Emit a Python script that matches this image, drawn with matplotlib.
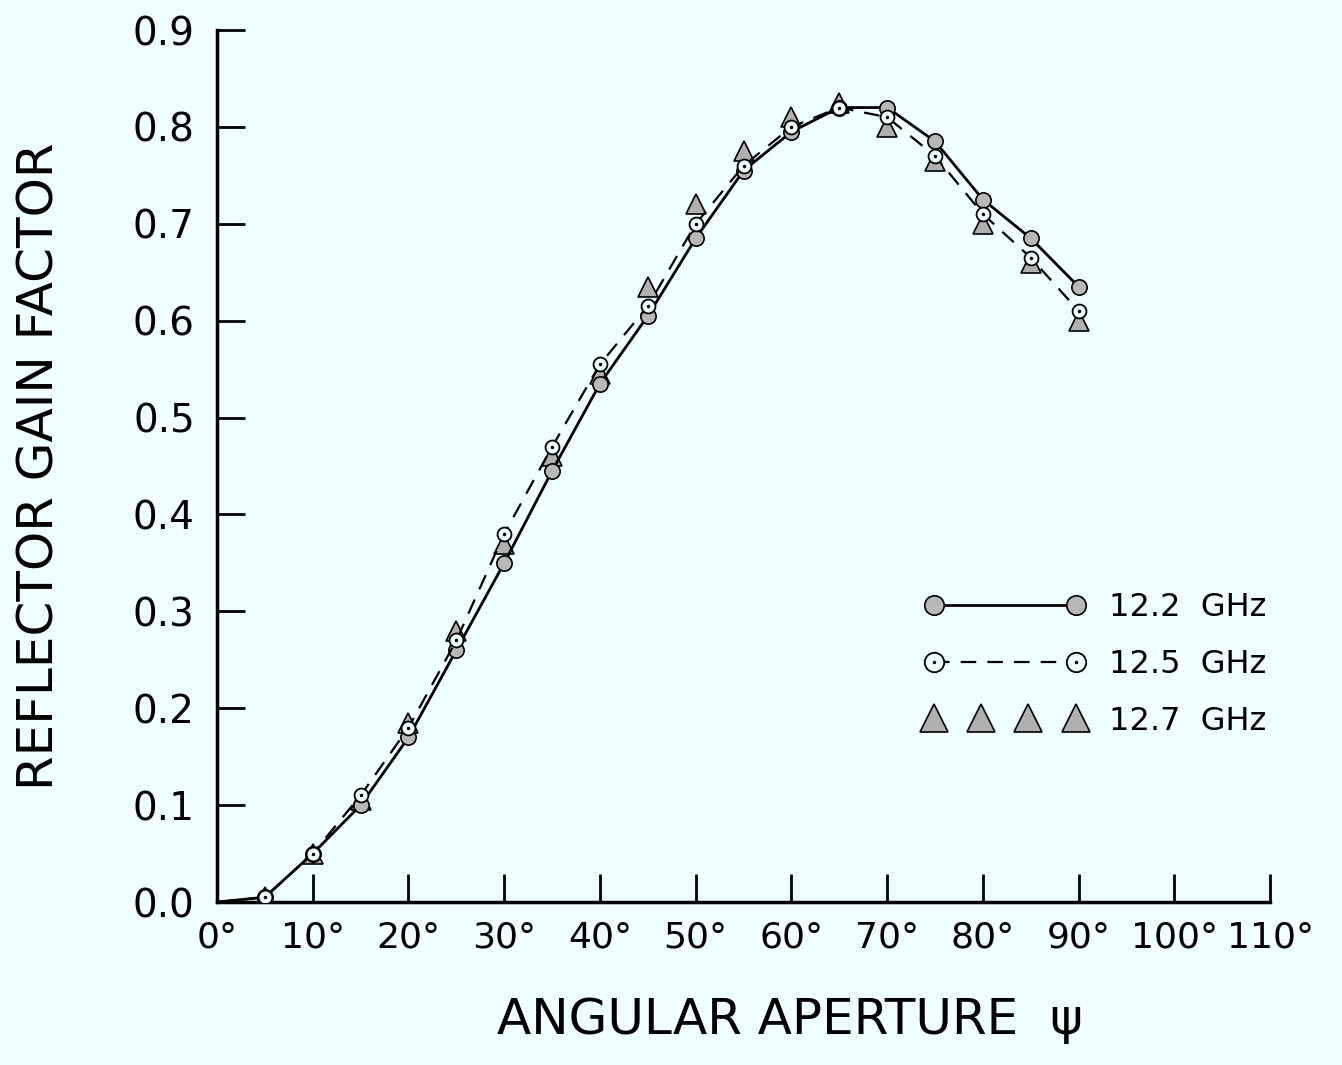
import numpy as np
import matplotlib
matplotlib.use("Agg")
from matplotlib import pyplot as plt
from matplotlib.lines import Line2D
from matplotlib.legend_handler import HandlerLine2D

# angular aperture (deg), 0 is only a start point for the curves
aperture = [0, 5, 10, 15, 20, 25, 30, 35, 40, 45, 50, 55, 60, 65, 70, 75, 80, 85, 90]
gain_122 = [0.0, 0.005, 0.05, 0.10, 0.17, 0.26, 0.35, 0.445, 0.535, 0.605, 0.685,
            0.755, 0.795, 0.82, 0.82, 0.785, 0.725, 0.685, 0.635]
gain_125 = [0.0, 0.005, 0.05, 0.11, 0.18, 0.27, 0.38, 0.47, 0.555, 0.615, 0.70,
            0.76, 0.80, 0.82, 0.81, 0.77, 0.71, 0.665, 0.61]
gain_127 = [0.0, 0.005, 0.05, 0.105, 0.185, 0.28, 0.37, 0.46, 0.545, 0.635, 0.72,
            0.775, 0.81, 0.825, 0.80, 0.765, 0.70, 0.66, 0.60]
labels = ["12.2  GHz", "12.5  GHz", "12.7  GHz"]
xticks = [0, 10, 20, 30, 40, 50, 60, 70, 80, 90, 100, 110]
yticks = [0.0, 0.1, 0.2, 0.3, 0.4, 0.5, 0.6, 0.7, 0.8, 0.9]

bg = "#effefe"
plt.rcParams["font.family"] = "DejaVu Sans"

fig = plt.figure(figsize=(13.42, 10.65), dpi=100, facecolor=bg)
ax = fig.add_axes([0.1617, 0.153, 0.7848, 0.8188], facecolor=bg)

every = list(range(1, len(aperture)))
ax.plot(aperture, gain_122, "-", color="black", lw=2.0, marker="o", ms=11,
        mfc="#b8b8b8", mec="black", mew=1.2, markevery=every, zorder=3)
ax.plot(aperture, gain_125, "--", color="black", lw=1.6, dashes=(7, 5),
        marker="o", ms=10, mfc=bg, mec="black", mew=1.3, markevery=every, zorder=4)
ax.plot(aperture[1:], gain_125[1:], ".", color="black", ms=3, zorder=5)
ax.plot(aperture[1:], gain_127[1:], "^", ls="none", ms=14, mfc="#b0b0b0",
        mec="black", mew=1.2, zorder=2)

ax.set_xlim(0, 110)
ax.set_ylim(0, 0.9)
ax.set_xticks(xticks)
ax.set_xticklabels([f"{t}°" for t in xticks])
ax.set_yticks(yticks)
ax.set_yticklabels([f"{t:.1f}" for t in yticks])
ax.tick_params(axis="x", direction="in", length=20, width=2, labelsize=26, pad=13)
ax.tick_params(axis="y", direction="in", length=20, width=2, labelsize=28, pad=16)
for side in ["top", "right"]:
    ax.spines[side].set_visible(False)
for side in ["left", "bottom"]:
    ax.spines[side].set_linewidth(2.5)

ax.set_xlabel("ANGULAR APERTURE  ψ", fontsize=36)
ax.xaxis.set_label_coords(0.544, -0.108)
ax.set_ylabel("REFLECTOR GAIN FACTOR", fontsize=36, labelpad=50)

# legend proxies (larger symbols as in the original key)
h1 = Line2D([], [], ls="-", color="black", lw=2.0, marker="o", ms=14,
            mfc="#b8b8b8", mec="black", mew=1.2)
h2 = Line2D([], [], ls="--", color="black", lw=1.6, dashes=(7, 5), marker="o",
            ms=14, mfc=bg, mec="black", mew=1.3)
h2d = Line2D([], [], ls="none", marker=".", color="black", ms=3)
h3 = Line2D([], [], ls="none", marker="^", ms=20, mfc="#b0b0b0", mec="black", mew=1.2)
ax.legend([h1, (h2, h2d), h3], labels, frameon=False, fontsize=23,
          handlelength=5.05, handletextpad=0.75, labelspacing=0.8,
          loc="upper left", bbox_to_anchor=(0.644, 0.388),
          handler_map={h1: HandlerLine2D(numpoints=2), h2: HandlerLine2D(numpoints=2),
                       h2d: HandlerLine2D(numpoints=2), h3: HandlerLine2D(numpoints=4)})

fig.savefig("out.png", dpi=100, facecolor=bg)
